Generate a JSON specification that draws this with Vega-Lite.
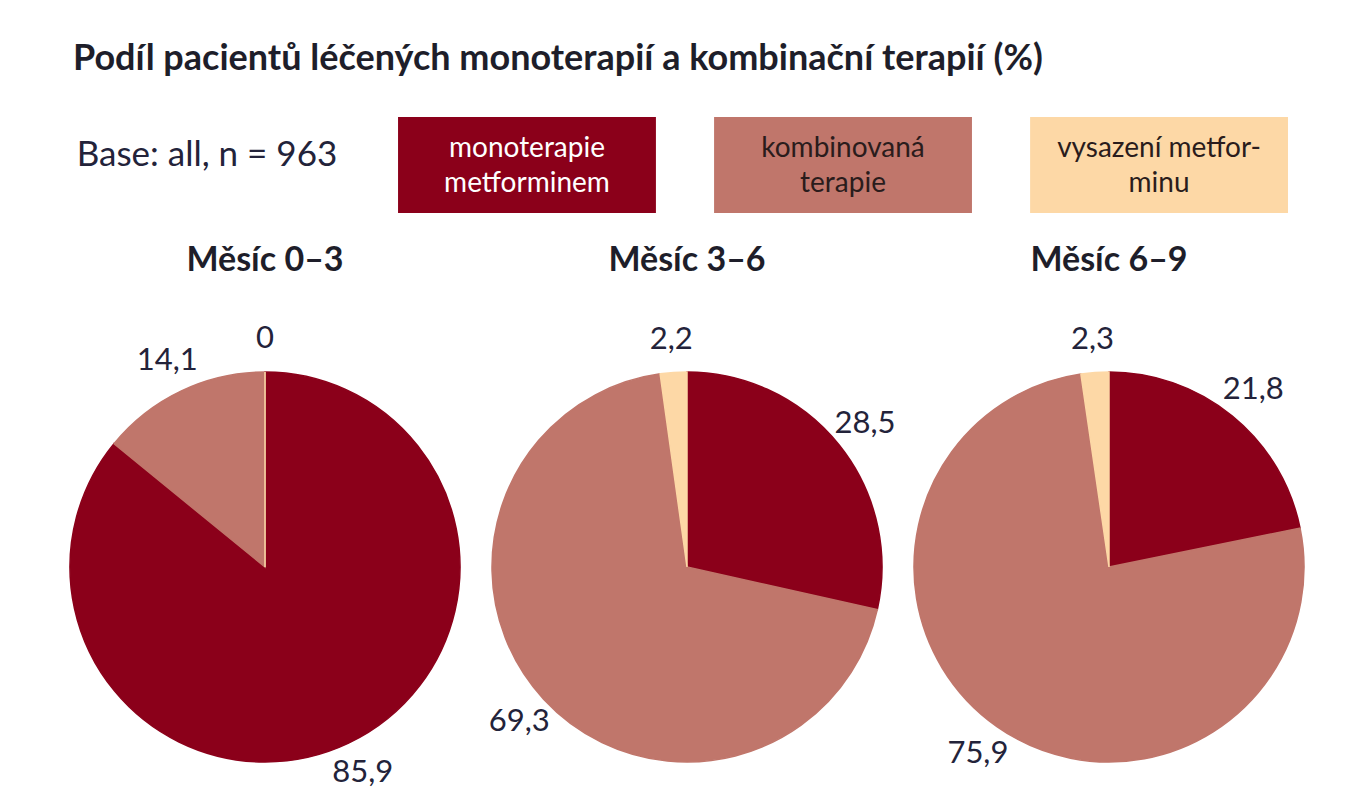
{
  "$schema": "https://vega.github.io/schema/vega-lite/v6.json",
  "background": "white",
  "padding": {"left": 67, "top": 41, "right": 20, "bottom": 10},
  "bounds": "flush",
  "spacing": 159,
  "title": {
    "text": "Podíl pacientů léčených monoterapií a kombinační terapií (%)",
    "anchor": "start",
    "dx": 6,
    "font": "Lato",
    "fontSize": 36,
    "fontWeight": "bold",
    "color": "#1e1e2a",
    "offset": 39
  },
  "config": {
    "font": "Lato",
    "view": {"stroke": null},
    "locale": {"number": {"decimal": ",", "thousands": " ", "grouping": [3], "currency": ["", " Kč"]}}
  },
  "vconcat": [
    {
      "width": 1230,
      "height": 96,
      "data": {"values": [
        {"kategorie": "base", "popisek": "Base: all, n = 963"},
        {"kategorie": "monoterapie metforminem", "popisek": "monoterapie\nmetforminem"},
        {"kategorie": "kombinovaná terapie", "popisek": "kombinovaná\nterapie"},
        {"kategorie": "vysazení metforminu", "popisek": "vysazení metfor-\nminu"}
      ]},
      "encoding": {
        "x": {
          "field": "kategorie",
          "type": "nominal",
          "axis": null,
          "scale": {
            "domain": ["base", "monoterapie metforminem", "kombinovaná terapie", "vysazení metforminu"],
            "paddingInner": 0.184,
            "paddingOuter": 0.038
          }
        }
      },
      "layer": [
        {
          "transform": [{"filter": "datum.kategorie != 'base'"}],
          "mark": "rect",
          "encoding": {
            "color": {
              "field": "kategorie",
              "type": "nominal",
              "legend": null,
              "scale": {
                "domain": ["monoterapie metforminem", "kombinovaná terapie", "vysazení metforminu"],
                "range": ["#8b001a", "#c0766b", "#fdd8a6"]
              }
            }
          }
        },
        {
          "transform": [{"filter": "datum.kategorie != 'base'"}],
          "mark": {"type": "text", "fontSize": 28, "lineBreak": "\n", "lineHeight": 35, "dy": -16},
          "encoding": {
            "text": {"field": "popisek", "type": "nominal"},
            "color": {
              "condition": {"test": "datum.kategorie == 'monoterapie metforminem'", "value": "white"},
              "value": "#2a1c1c"
            }
          }
        },
        {
          "transform": [{"filter": "datum.kategorie == 'base'"}],
          "mark": {"type": "text", "fontSize": 35, "dy": -10, "dx": -4},
          "encoding": {
            "text": {"field": "popisek", "type": "nominal"},
            "color": {"value": "#23233a"}
          }
        }
      ]
    },
    {
      "data": {"values": [
        {"mesic": "Měsíc 0–3", "kategorie": "monoterapie metforminem", "poradi": 1, "podil": 85.9},
        {"mesic": "Měsíc 0–3", "kategorie": "kombinovaná terapie", "poradi": 2, "podil": 14.1},
        {"mesic": "Měsíc 0–3", "kategorie": "vysazení metforminu", "poradi": 3, "podil": 0},
        {"mesic": "Měsíc 3–6", "kategorie": "monoterapie metforminem", "poradi": 1, "podil": 28.5},
        {"mesic": "Měsíc 3–6", "kategorie": "kombinovaná terapie", "poradi": 2, "podil": 69.3},
        {"mesic": "Měsíc 3–6", "kategorie": "vysazení metforminu", "poradi": 3, "podil": 2.2},
        {"mesic": "Měsíc 6–9", "kategorie": "monoterapie metforminem", "poradi": 1, "podil": 21.8},
        {"mesic": "Měsíc 6–9", "kategorie": "kombinovaná terapie", "poradi": 2, "podil": 75.9},
        {"mesic": "Měsíc 6–9", "kategorie": "vysazení metforminu", "poradi": 3, "podil": 2.3}
      ]},
      "bounds": "flush",
      "facet": {
        "column": {
          "field": "mesic",
          "type": "nominal",
          "header": {
            "title": null,
            "labelFontSize": 34,
            "labelFontWeight": "bold",
            "labelColor": "#1e1e2a",
            "labelPadding": 94
          }
        }
      },
      "spacing": 32,
      "spec": {
        "width": 390,
        "height": 390,
        "encoding": {
          "theta": {"field": "podil", "type": "quantitative", "stack": true},
          "order": {"field": "poradi", "type": "quantitative"},
          "color": {
            "field": "kategorie",
            "type": "nominal",
            "legend": null,
            "scale": {
              "domain": ["monoterapie metforminem", "kombinovaná terapie", "vysazení metforminu"],
              "range": ["#8b001a", "#c0766b", "#fdd8a6"]
            }
          }
        },
        "layer": [
          {
            "mark": {"type": "arc", "strokeWidth": 1.5},
            "encoding": {
              "stroke": {
                "field": "kategorie",
                "type": "nominal",
                "legend": null,
                "scale": {
                  "domain": ["monoterapie metforminem", "kombinovaná terapie", "vysazení metforminu"],
                  "range": ["#8b001a", "#c0766b", "#fdd8a6"]
                }
              }
            }
          },
          {
            "mark": {"type": "text", "radius": 228, "fontSize": 31},
            "encoding": {
              "text": {"field": "podil", "type": "quantitative", "format": "~g"},
              "color": {"value": "#23233a"}
            }
          }
        ]
      }
    }
  ]
}
